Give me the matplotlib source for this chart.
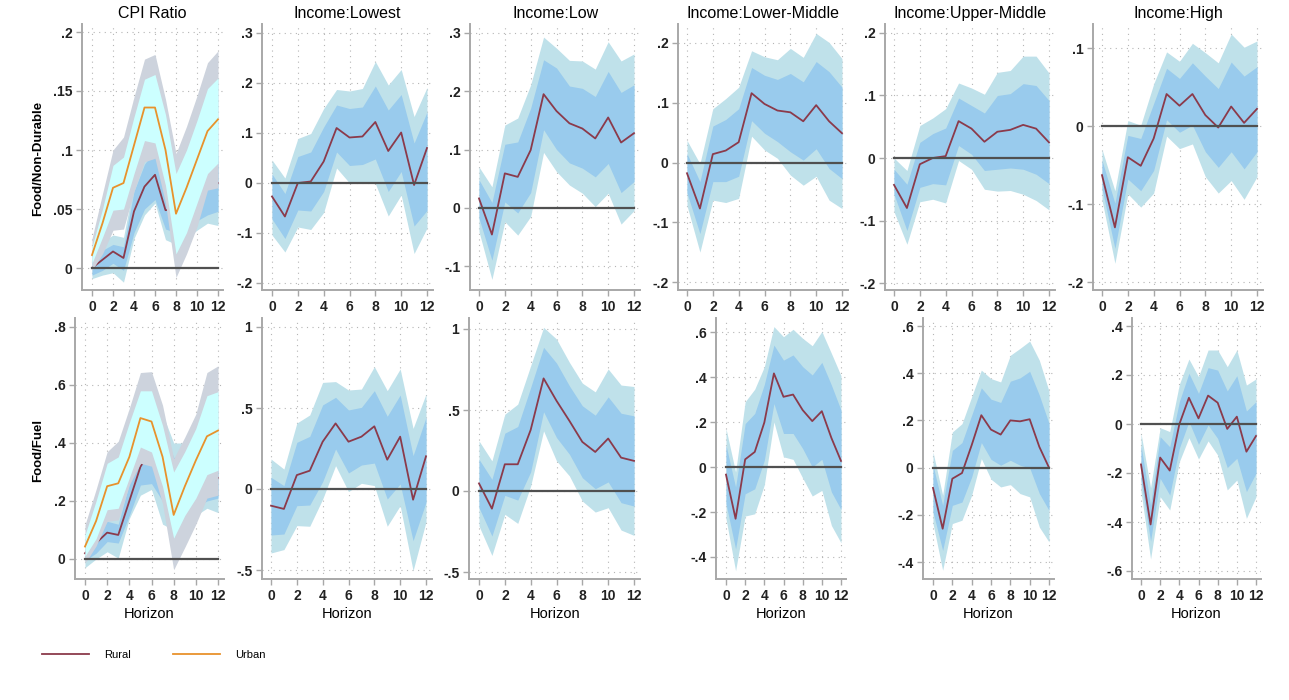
import matplotlib.pyplot as plt
from matplotlib.lines import Line2D

plt.rcParams['font.family'] = ['Liberation Sans', 'DejaVu Sans']

horizon = list(range(13))
col_titles = ['CPI Ratio', 'Income:Lowest', 'Income:Low', 'Income:Lower-Middle',
              'Income:Upper-Middle', 'Income:High']
row_labels = ['Food/Non-Durable', 'Food/Fuel']

# ---- Food/Non-Durable ----
# CPI ratio, rural (est, inner band lo/hi, outer band lo/hi)
nd_cpi_rural = [0.0, 0.007, 0.014, 0.0085, 0.048, 0.069, 0.079, 0.049, 0.05, 0.055, 0.06, 0.07, 0.072]
nd_cpi_rural_lo1 = [-0.006, -0.002, 0.004, -0.002, 0.03, 0.05, 0.058, 0.033, 0.03, 0.035, 0.04, 0.045, 0.048]
nd_cpi_rural_hi1 = [0.005, 0.015, 0.02, 0.018, 0.065, 0.088, 0.1, 0.07, 0.07, 0.075, 0.08, 0.09, 0.095]
nd_cpi_rural_lo2 = [-0.009, -0.006, -0.004, -0.012, 0.025, 0.045, 0.055, 0.024, 0.02, 0.025, 0.032, 0.038, 0.036]
nd_cpi_rural_hi2 = [0.01, 0.022, 0.028, 0.026, 0.072, 0.095, 0.108, 0.08, 0.08, 0.085, 0.09, 0.1, 0.105]
# CPI ratio, urban
nd_cpi_urban = [0.011, 0.038, 0.068, 0.072, 0.104, 0.136, 0.136, 0.1, 0.046, 0.068, 0.092, 0.116, 0.126]
nd_cpi_urban_lo1 = [0.004, 0.026, 0.049, 0.05, 0.08, 0.108, 0.106, 0.07, 0.012, 0.03, 0.055, 0.08, 0.089]
nd_cpi_urban_hi1 = [0.018, 0.05, 0.087, 0.094, 0.128, 0.16, 0.164, 0.13, 0.08, 0.1, 0.125, 0.152, 0.161]
nd_cpi_urban_lo2 = [-0.002, 0.012, 0.032, 0.033, 0.065, 0.09, 0.093, 0.055, -0.008, 0.012, 0.035, 0.066, 0.068]
nd_cpi_urban_hi2 = [0.025, 0.063, 0.1, 0.111, 0.145, 0.177, 0.181, 0.143, 0.097, 0.12, 0.146, 0.174, 0.184]

nd_lowest = [-0.027, -0.067, 0.0, 0.003, 0.043, 0.11, 0.091, 0.093, 0.122, 0.064, 0.101, -0.004, 0.07]
nd_lowest_lo1 = [-0.072, -0.111, -0.054, -0.056, -0.017, 0.062, 0.035, 0.037, 0.048, -0.017, 0.023, -0.086, -0.055]
nd_lowest_hi1 = [0.018, -0.021, 0.053, 0.062, 0.112, 0.156, 0.149, 0.152, 0.194, 0.146, 0.177, 0.08, 0.142]
nd_lowest_lo2 = [-0.104, -0.138, -0.088, -0.093, -0.059, 0.03, 0.0, 0.001, -0.001, -0.066, -0.024, -0.141, -0.09]
nd_lowest_hi2 = [0.046, 0.01, 0.089, 0.099, 0.149, 0.187, 0.184, 0.189, 0.243, 0.196, 0.227, 0.133, 0.191]

nd_low = [0.016, -0.046, 0.059, 0.053, 0.099, 0.195, 0.166, 0.145, 0.136, 0.119, 0.155, 0.112, 0.128]
nd_low_lo1 = [-0.018, -0.09, 0.01, -0.009, 0.026, 0.134, 0.1, 0.077, 0.068, 0.053, 0.076, 0.026, 0.045]
nd_low_hi1 = [0.048, 0.009, 0.109, 0.113, 0.171, 0.254, 0.24, 0.209, 0.205, 0.191, 0.234, 0.198, 0.211]
nd_low_lo2 = [-0.041, -0.123, -0.024, -0.047, -0.015, 0.095, 0.062, 0.039, 0.025, 0.002, 0.025, -0.028, -0.005]
nd_low_hi2 = [0.07, 0.036, 0.142, 0.154, 0.211, 0.293, 0.274, 0.253, 0.252, 0.238, 0.285, 0.252, 0.264]

nd_lowmid = [-0.018, -0.077, 0.014, 0.02, 0.034, 0.116, 0.098, 0.087, 0.084, 0.069, 0.096, 0.069, 0.049]
nd_lowmid_lo1 = [-0.051, -0.119, -0.032, -0.032, -0.023, 0.07, 0.049, 0.035, 0.018, 0.004, 0.023, -0.01, -0.027]
nd_lowmid_hi1 = [0.015, -0.032, 0.061, 0.072, 0.09, 0.159, 0.146, 0.139, 0.149, 0.135, 0.169, 0.152, 0.126]
nd_lowmid_lo2 = [-0.072, -0.15, -0.063, -0.067, -0.06, 0.044, 0.021, 0.007, -0.021, -0.038, -0.023, -0.063, -0.077]
nd_lowmid_hi2 = [0.037, -0.002, 0.09, 0.107, 0.126, 0.187, 0.177, 0.172, 0.191, 0.176, 0.216, 0.201, 0.174]

nd_upmid = [-0.043, -0.08, -0.01, 0.0, 0.003, 0.059, 0.047, 0.026, 0.042, 0.045, 0.053, 0.047, 0.025]
nd_upmid_lo1 = [-0.058, -0.116, -0.047, -0.041, -0.043, 0.02, 0.006, -0.02, -0.018, -0.016, -0.018, -0.026, -0.041]
nd_upmid_hi1 = [-0.018, -0.042, 0.025, 0.039, 0.048, 0.096, 0.084, 0.072, 0.1, 0.103, 0.119, 0.116, 0.092]
nd_upmid_lo2 = [-0.086, -0.138, -0.07, -0.066, -0.072, -0.004, -0.018, -0.05, -0.053, -0.052, -0.058, -0.068, -0.083]
nd_upmid_hi2 = [0.0, -0.02, 0.052, 0.064, 0.079, 0.12, 0.112, 0.102, 0.137, 0.14, 0.163, 0.163, 0.136]

nd_high = [-0.063, -0.13, -0.04, -0.051, -0.016, 0.041, 0.026, 0.041, 0.014, -0.002, 0.025, 0.004, 0.022]
nd_high_lo1 = [-0.08, -0.157, -0.068, -0.083, -0.057, 0.008, -0.008, 0.001, -0.033, -0.053, -0.033, -0.055, -0.033]
nd_high_hi1 = [-0.044, -0.099, -0.012, -0.016, 0.029, 0.074, 0.061, 0.081, 0.064, 0.048, 0.082, 0.064, 0.076]
nd_high_lo2 = [-0.095, -0.176, -0.087, -0.104, -0.086, -0.013, -0.029, -0.023, -0.065, -0.086, -0.07, -0.094, -0.065]
nd_high_hi2 = [-0.03, -0.083, 0.007, 0.001, 0.054, 0.095, 0.083, 0.106, 0.094, 0.081, 0.118, 0.101, 0.109]

# ---- Food/Fuel ----
fu_cpi_rural = [0.02, 0.055, 0.091, 0.083, 0.2, 0.318, 0.38, 0.33, 0.25, 0.26, 0.27, 0.28, 0.28]
fu_cpi_rural_lo1 = [-0.005, 0.02, 0.06, 0.055, 0.15, 0.255, 0.26, 0.2, 0.15, 0.16, 0.18, 0.2, 0.21]
fu_cpi_rural_hi1 = [0.05, 0.09, 0.13, 0.12, 0.26, 0.38, 0.45, 0.45, 0.35, 0.36, 0.37, 0.38, 0.38]
fu_cpi_rural_lo2 = [-0.03, 0.0, 0.025, 0.003, 0.14, 0.22, 0.24, 0.12, 0.1, 0.12, 0.15, 0.175, 0.16]
fu_cpi_rural_hi2 = [0.07, 0.11, 0.16, 0.15, 0.3, 0.42, 0.5, 0.5, 0.4, 0.4, 0.41, 0.42, 0.42]
fu_cpi_urban = [0.043, 0.131, 0.251, 0.261, 0.352, 0.486, 0.474, 0.352, 0.152, 0.25, 0.34, 0.423, 0.443]
fu_cpi_urban_lo1 = [0.01, 0.07, 0.17, 0.175, 0.28, 0.386, 0.369, 0.25, 0.072, 0.15, 0.21, 0.291, 0.306]
fu_cpi_urban_hi1 = [0.083, 0.2, 0.33, 0.352, 0.47, 0.58, 0.58, 0.46, 0.3, 0.37, 0.45, 0.563, 0.577]
fu_cpi_urban_lo2 = [-0.015, 0.045, 0.13, 0.135, 0.255, 0.33, 0.32, 0.19, -0.037, 0.04, 0.12, 0.21, 0.22]
fu_cpi_urban_hi2 = [0.118, 0.24, 0.37, 0.406, 0.52, 0.643, 0.646, 0.53, 0.346, 0.42, 0.5, 0.643, 0.666]

fu_lowest = [-0.103, -0.123, 0.086, 0.113, 0.292, 0.405, 0.292, 0.323, 0.387, 0.181, 0.323, -0.066, 0.202]
fu_lowest_lo1 = [-0.284, -0.278, -0.103, -0.099, 0.045, 0.247, 0.099, 0.148, 0.16, -0.062, 0.031, -0.319, -0.082]
fu_lowest_hi1 = [0.072, 0.021, 0.288, 0.325, 0.519, 0.566, 0.488, 0.504, 0.607, 0.449, 0.58, 0.206, 0.442]
fu_lowest_lo2 = [-0.395, -0.374, -0.226, -0.23, -0.062, 0.144, -0.016, 0.035, 0.021, -0.23, -0.103, -0.504, -0.202]
fu_lowest_hi2 = [0.185, 0.123, 0.407, 0.457, 0.658, 0.663, 0.611, 0.617, 0.755, 0.607, 0.741, 0.374, 0.586]

fu_low = [0.047, -0.109, 0.165, 0.165, 0.377, 0.695, 0.557, 0.433, 0.303, 0.241, 0.324, 0.206, 0.186]
fu_low_lo1 = [-0.103, -0.278, -0.027, -0.056, 0.118, 0.489, 0.33, 0.227, 0.082, 0.014, 0.056, -0.072, -0.093]
fu_low_hi1 = [0.196, 0.072, 0.357, 0.398, 0.639, 0.887, 0.79, 0.649, 0.526, 0.468, 0.581, 0.48, 0.464]
fu_low_lo2 = [-0.216, -0.398, -0.144, -0.2, 0.031, 0.371, 0.186, 0.093, -0.062, -0.13, -0.103, -0.241, -0.274]
fu_low_hi2 = [0.309, 0.186, 0.474, 0.536, 0.773, 1.01, 0.938, 0.794, 0.666, 0.612, 0.753, 0.654, 0.645]

fu_lowmid = [-0.034, -0.23, 0.034, 0.067, 0.198, 0.416, 0.312, 0.322, 0.253, 0.204, 0.248, 0.129, 0.027]
fu_lowmid_lo1 = [-0.163, -0.364, -0.119, -0.097, 0.03, 0.282, 0.149, 0.149, 0.082, 0.0, 0.034, -0.111, -0.189]
fu_lowmid_hi1 = [0.097, -0.089, 0.193, 0.238, 0.367, 0.542, 0.475, 0.498, 0.446, 0.409, 0.465, 0.364, 0.253]
fu_lowmid_lo2 = [-0.23, -0.461, -0.218, -0.208, -0.079, 0.2, 0.045, 0.034, -0.049, -0.129, -0.104, -0.26, -0.337]
fu_lowmid_hi2 = [0.171, -0.022, 0.29, 0.346, 0.446, 0.624, 0.579, 0.612, 0.572, 0.539, 0.602, 0.505, 0.406]

fu_upmid = [-0.086, -0.259, -0.047, -0.023, 0.095, 0.222, 0.161, 0.14, 0.2, 0.196, 0.205, 0.088, 0.0]
fu_upmid_lo1 = [-0.188, -0.351, -0.16, -0.146, -0.04, 0.106, 0.035, 0.01, 0.031, 0.01, -0.001, -0.11, -0.181]
fu_upmid_hi1 = [0.01, -0.16, 0.073, 0.106, 0.222, 0.338, 0.29, 0.276, 0.366, 0.38, 0.408, 0.307, 0.187]
fu_upmid_lo2 = [-0.237, -0.435, -0.237, -0.223, -0.117, 0.038, -0.049, -0.082, -0.072, -0.11, -0.124, -0.252, -0.315]
fu_upmid_hi2 = [0.066, -0.117, 0.151, 0.186, 0.3, 0.413, 0.377, 0.363, 0.476, 0.505, 0.536, 0.455, 0.324]

fu_high = [-0.165, -0.41, -0.137, -0.19, -0.001, 0.107, 0.023, 0.116, 0.087, -0.02, 0.03, -0.113, -0.049]
fu_high_lo1 = [-0.229, -0.478, -0.222, -0.29, -0.099, 0.01, -0.083, -0.004, -0.059, -0.178, -0.14, -0.276, -0.201]
fu_high_hi1 = [-0.086, -0.331, -0.052, -0.093, 0.091, 0.207, 0.125, 0.23, 0.22, 0.135, 0.197, 0.053, 0.091]
fu_high_lo2 = [-0.276, -0.551, -0.297, -0.351, -0.154, -0.056, -0.143, -0.069, -0.127, -0.269, -0.229, -0.385, -0.297]
fu_high_hi2 = [-0.038, -0.26, -0.015, -0.031, 0.162, 0.265, 0.193, 0.302, 0.302, 0.234, 0.302, 0.159, 0.184]

yticks = [
    [[0, 0.05, 0.1, 0.15, 0.2], [-0.2, -0.1, 0, 0.1, 0.2, 0.3], [-0.1, 0, 0.1, 0.2, 0.3],
     [-0.2, -0.1, 0, 0.1, 0.2], [-0.2, -0.1, 0, 0.1, 0.2], [-0.2, -0.1, 0, 0.1]],
    [[0, 0.2, 0.4, 0.6, 0.8], [-0.5, 0, 0.5, 1], [-0.5, 0, 0.5, 1],
     [-0.4, -0.2, 0, 0.2, 0.4, 0.6], [-0.4, -0.2, 0, 0.2, 0.4, 0.6],
     [-0.6, -0.4, -0.2, 0, 0.2, 0.4]],
]

rural_panels = [
    [(nd_cpi_rural, nd_cpi_rural_lo1, nd_cpi_rural_hi1, nd_cpi_rural_lo2, nd_cpi_rural_hi2),
     (nd_lowest, nd_lowest_lo1, nd_lowest_hi1, nd_lowest_lo2, nd_lowest_hi2),
     (nd_low, nd_low_lo1, nd_low_hi1, nd_low_lo2, nd_low_hi2),
     (nd_lowmid, nd_lowmid_lo1, nd_lowmid_hi1, nd_lowmid_lo2, nd_lowmid_hi2),
     (nd_upmid, nd_upmid_lo1, nd_upmid_hi1, nd_upmid_lo2, nd_upmid_hi2),
     (nd_high, nd_high_lo1, nd_high_hi1, nd_high_lo2, nd_high_hi2)],
    [(fu_cpi_rural, fu_cpi_rural_lo1, fu_cpi_rural_hi1, fu_cpi_rural_lo2, fu_cpi_rural_hi2),
     (fu_lowest, fu_lowest_lo1, fu_lowest_hi1, fu_lowest_lo2, fu_lowest_hi2),
     (fu_low, fu_low_lo1, fu_low_hi1, fu_low_lo2, fu_low_hi2),
     (fu_lowmid, fu_lowmid_lo1, fu_lowmid_hi1, fu_lowmid_lo2, fu_lowmid_hi2),
     (fu_upmid, fu_upmid_lo1, fu_upmid_hi1, fu_upmid_lo2, fu_upmid_hi2),
     (fu_high, fu_high_lo1, fu_high_hi1, fu_high_lo2, fu_high_hi2)],
]
urban_panels = [
    (nd_cpi_urban, nd_cpi_urban_lo1, nd_cpi_urban_hi1, nd_cpi_urban_lo2, nd_cpi_urban_hi2),
    (fu_cpi_urban, fu_cpi_urban_lo1, fu_cpi_urban_hi1, fu_cpi_urban_lo2, fu_cpi_urban_hi2),
]

# panel geometry in pixels: left spine, x of 0, x of 12, (top tick val, px), (bottom tick val, px)
W, H = 1289, 700
row_top = [24, 318]
row_bottom = [290, 579]
geom = [
    [(82, 92, 218, 0.2, 32, 0, 268), (262, 272, 427, 0.3, 33, -0.2, 283),
     (470, 479, 634, 0.3, 33, -0.1, 266), (678, 687, 842, 0.2, 43, -0.2, 282),
     (885, 894, 1049, 0.2, 33, -0.2, 283), (1093, 1102, 1257, 0.1, 48, -0.2, 282)],
    [(75, 85, 218, 0.8, 327, 0, 559), (262, 271, 426, 1, 327, -0.5, 570),
     (469, 479, 634, 1, 329, -0.5, 572), (716, 726, 841, 0.6, 332, -0.4, 557),
     (923, 933, 1049, 0.6, 326, -0.4, 562), (1132, 1141, 1256, 0.4, 326, -0.6, 571)],
]

c_rural, c_urban = '#8b3a4b', '#e8922c'
c_in, c_out = '#99cbed', '#bfe1ea'
c_uin, c_uout = '#ccffff', '#cdd3dd'


def stata_fmt(v):
    s = f'{v:g}'
    return s.replace('0.', '.') if abs(v) < 1 else s


fig = plt.figure(figsize=(W / 100, H / 100), dpi=100)

for r in range(2):
    for c in range(6):
        sp, x0, x12, ya, pa, yb, pb = geom[r][c]
        top, bot = row_top[r], row_bottom[r]
        ppx = (x12 - x0) / 12
        right = x12 + 0.5 * ppx
        ppy = (pb - pa) / (ya - yb)
        zero_px = pa + ya * ppy
        ax = fig.add_axes([sp / W, 1 - bot / H, (right - sp) / W, (bot - top) / H])
        ax.set_xlim(-(x0 - sp) / ppx, 12.5)
        ax.set_ylim(-(bot - zero_px) / ppy, (zero_px - top) / ppy)

        # rural first, urban drawn over it (it hides part of the rural line)
        est, lo1, hi1, lo2, hi2 = rural_panels[r][c]
        ax.fill_between(horizon, lo2, hi2, color=c_out, lw=0, zorder=2)
        ax.fill_between(horizon, lo1, hi1, color=c_in, lw=0, zorder=3)
        ax.plot(horizon, est, color=c_rural, lw=1.3, zorder=4)
        if c == 0:
            u, ulo1, uhi1, ulo2, uhi2 = urban_panels[r]
            ax.fill_between(horizon, ulo2, uhi2, color=c_uout, lw=0, zorder=5)
            ax.fill_between(horizon, ulo1, uhi1, color=c_uin, lw=0, zorder=6)
            ax.plot(horizon, u, color=c_urban, lw=1.3, zorder=7)
        ax.plot([0, 12], [0, 0], color='#505050', lw=1.6, zorder=8)

        ax.set_xticks(range(0, 13, 2))
        ax.set_yticks(yticks[r][c])
        ax.set_yticklabels([stata_fmt(v) for v in yticks[r][c]])
        ax.grid(True, color='#b5b5b5', linestyle=(0, (1, 4)), lw=0.8, zorder=1)
        ax.set_axisbelow(True)
        for s in ['top', 'right']:
            ax.spines[s].set_visible(False)
        for s in ['left', 'bottom']:
            ax.spines[s].set_color('#a8a8a8')
            ax.spines[s].set_linewidth(1.4)
        ax.tick_params(direction='out', length=4, width=1, color='#a8a8a8',
                       labelcolor='#222222', labelsize=10, pad=3)
        for lab in ax.get_xticklabels() + ax.get_yticklabels():
            lab.set_fontweight('bold')
        if r == 0:
            ax.set_title(col_titles[c], fontsize=11.5, pad=4)
        else:
            ax.set_xlabel('Horizon', fontsize=10.5, labelpad=3)

fig.text(38 / W, 1 - 158 / H, row_labels[0], rotation=90, fontsize=9.5,
         fontweight='bold', ha='center', va='center')
fig.text(38 / W, 1 - 450 / H, row_labels[1], rotation=90, fontsize=9.5,
         fontweight='bold', ha='center', va='center')

handles = [Line2D([], [], color=c_rural, lw=1.3), Line2D([], [], color=c_urban, lw=1.3)]
fig.legend(handles, ['Rural', 'Urban'], loc='center left',
           bbox_to_anchor=(42 / W, 1 - 655 / H), ncol=2, frameon=False,
           fontsize=8, handlelength=4.2, handletextpad=1.4, columnspacing=3.8,
           borderpad=0, borderaxespad=0)

fig.savefig('out.png', dpi=100)
